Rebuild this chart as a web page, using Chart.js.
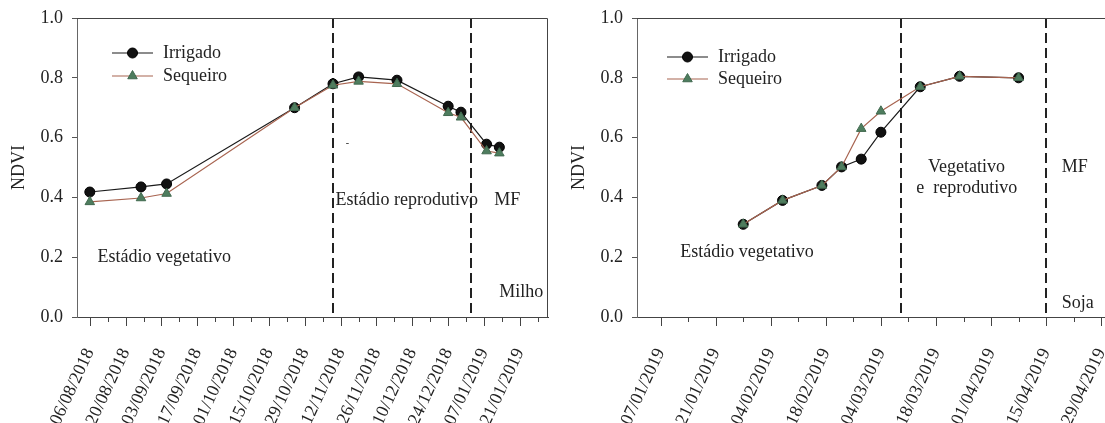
<!DOCTYPE html>
<html>
<head>
<meta charset="utf-8">
<script src="https://cdn.jsdelivr.net/npm/chart.js@4.4.1/dist/chart.umd.min.js"></script>
<style>
  html, body { margin: 0; padding: 0; background: #fff; overflow: hidden; }
  #wrap { position: relative; width: 1105px; height: 423px; overflow: hidden; }
  #milhoChart { position: absolute; left: 0; top: 0; }
  #sojaChart { position: absolute; left: 560px; top: 0; }
</style>
</head>
<body>
<div id="wrap">
  <canvas id="milhoChart" width="556" height="423"></canvas>
  <canvas id="sojaChart" width="561" height="423"></canvas>
</div>
<script>
// Milho
const milhoDates = ['06/08/2018', '26/08/2018', '05/09/2018', '25/10/2018', '09/11/2018', '19/11/2018',
                    '04/12/2018', '24/12/2018', '29/12/2018', '08/01/2019', '13/01/2019'];
const milhoIrrigado = [0.418, 0.435, 0.445, 0.700, 0.780, 0.803, 0.792, 0.705, 0.685, 0.578, 0.568];
const milhoSequeiro = [0.385, 0.398, 0.413, 0.700, 0.775, 0.788, 0.780, 0.683, 0.668, 0.555, 0.548];
const milhoTickLabels = ['06/08/2018', '20/08/2018', '03/09/2018', '17/09/2018', '01/10/2018', '15/10/2018',
                         '29/10/2018', '12/11/2018', '26/11/2018', '10/12/2018', '24/12/2018', '07/01/2019', '21/01/2019'];
const milhoRange = ['01/08/2018', '01/02/2019'];
const milhoFases = ['09/11/2018', '02/01/2019'];
const milhoTextos = ['Estádio vegetativo', 'Estádio reprodutivo', 'MF', 'Milho', '-'];
const milhoTextosX = ['09/08/2018', '10/11/2018', '11/01/2019', '13/01/2019', '14/11/2018'];
const milhoTextosY = [0.20, 0.392, 0.392, 0.082, 0.58];

// Soja
const sojaDates = ['28/01/2019', '07/02/2019', '17/02/2019', '22/02/2019', '27/02/2019', '04/03/2019',
                   '14/03/2019', '24/03/2019', '08/04/2019'];
const sojaIrrigado = [0.31, 0.39, 0.44, 0.502, 0.528, 0.618, 0.77, 0.805, 0.80];
const sojaSequeiro = [0.31, 0.39, 0.44, 0.502, 0.630, 0.688, 0.77, 0.805, 0.80];
const sojaTickLabels = ['07/01/2019', '21/01/2019', '04/02/2019', '18/02/2019', '04/03/2019',
                        '18/03/2019', '01/04/2019', '15/04/2019', '29/04/2019'];
const sojaRange = ['01/01/2019', '02/05/2019'];
const sojaFases = ['09/03/2019', '15/04/2019'];
const sojaTextos = ['Estádio vegetativo', 'Vegetativo', 'e  reprodutivo', 'MF', 'Soja'];
const sojaTextosX = ['12/01/2019', '16/03/2019', '13/03/2019', '19/04/2019', '19/04/2019'];
const sojaTextosY = [0.215, 0.50, 0.43, 0.50, 0.045];

const ndviTicks = [0, 0.2, 0.4, 0.6, 0.8, 1.0];

Chart.defaults.font.family = "'Liberation Serif', 'Times New Roman', serif";
Chart.defaults.font.size = 18;
Chart.defaults.color = '#222';

// dd/mm/yyyy -> dias desde 01/01/2018 (segunda-feira)
function dia(s) {
    const p = s.split('/');
    return Math.round((Date.UTC(+p[2], +p[1] - 1, +p[0]) - Date.UTC(2018, 0, 1)) / 86400000);
}

const fasesPlugin = {
    id: 'fases',
    beforeDatasetsDraw(chart, args, opts) {
        const ctx = chart.ctx, a = chart.chartArea, xs = chart.scales.x;
        ctx.save();
        ctx.strokeStyle = '#222';
        ctx.lineWidth = 2;
        ctx.setLineDash([10, 5]);
        opts.fases.forEach(d => {
            const px = Math.round(xs.getPixelForValue(dia(d)));
            ctx.beginPath();
            ctx.moveTo(px, a.top);
            ctx.lineTo(px, a.bottom);
            ctx.stroke();
        });
        ctx.restore();
    },
    afterDraw(chart, args, opts) {
        const ctx = chart.ctx, a = chart.chartArea, xs = chart.scales.x, ys = chart.scales.y;
        ctx.save();
        // moldura
        ctx.strokeStyle = '#444';
        ctx.lineWidth = 1;
        ctx.beginPath();
        ctx.moveTo(a.left, a.top + 0.5);
        ctx.lineTo(a.right - 0.5, a.top + 0.5);
        ctx.lineTo(a.right - 0.5, a.bottom);
        ctx.stroke();

        // marcas do eixo x (maiores com rótulo, menores sem)
        xs.ticks.forEach(t => {
            const px = Math.round(xs.getPixelForValue(t.value)) + 0.5;
            const len = opts.labels.has(t.value) ? 9 : 5;
            ctx.beginPath();
            ctx.moveTo(px, a.bottom);
            ctx.lineTo(px, a.bottom + len);
            ctx.stroke();
        });

        // textos
        ctx.fillStyle = '#222';
        ctx.textAlign = 'left';
        ctx.textBaseline = 'middle';
        opts.textos.forEach((txt, i) => {
            ctx.font = (txt === '-' ? '10px' : '18px') + " 'Liberation Serif', serif";
            ctx.fillText(txt, xs.getPixelForValue(dia(opts.textosX[i])), ys.getPixelForValue(opts.textosY[i]));
        });

        // legenda
        ctx.font = "18px 'Liberation Serif', serif";
        chart.data.datasets.slice().reverse().forEach((ds, i) => {
            const x0 = a.left + opts.legend.x;
            const y = a.top + opts.legend.y[i];
            ctx.strokeStyle = ds.borderColor;
            ctx.lineWidth = ds.borderWidth;
            ctx.beginPath();
            ctx.moveTo(x0, y);
            ctx.lineTo(x0 + 41, y);
            ctx.stroke();
            ctx.fillStyle = ds.pointBackgroundColor;
            ctx.strokeStyle = ds.pointBorderColor;
            ctx.lineWidth = ds.pointBorderWidth;
            Chart.helpers.drawPoint(ctx, {
                pointStyle: ds.pointStyle, radius: ds.pointRadius, rotation: 0, borderWidth: ds.pointBorderWidth
            }, x0 + 20.5, y);
            ctx.fillStyle = '#222';
            ctx.fillText(ds.label, x0 + 51, y);
        });
        ctx.restore();
    }
};

function makeChart(id, dates, irrigado, sequeiro, tickLabels, range, fases, textos, textosX, textosY, legend) {
    const min = dia(range[0]), max = dia(range[1]);
    const labels = new Map(tickLabels.map(s => [dia(s), s]));
    const tickValues = [];
    for (let v = dia(tickLabels[0]) - 7; v <= max; v += 7) {
        if (v >= min) tickValues.push(v);
    }

    return new Chart(document.getElementById(id), {
        type: 'line',
        data: {
            datasets: [{
                label: 'Sequeiro',
                data: dates.map((d, i) => ({ x: dia(d), y: sequeiro[i] })),
                borderColor: '#a86450',
                borderWidth: 1.2,
                pointStyle: 'triangle',
                pointRadius: 5.5,
                pointBackgroundColor: '#4e7d5e',
                pointBorderColor: '#41694f',
                pointBorderWidth: 1,
                tension: 0
            }, {
                label: 'Irrigado',
                data: dates.map((d, i) => ({ x: dia(d), y: irrigado[i] })),
                borderColor: '#1a1a1a',
                borderWidth: 1.2,
                pointStyle: 'circle',
                pointRadius: 5,
                pointBackgroundColor: '#111',
                pointBorderColor: '#000',
                pointBorderWidth: 1,
                tension: 0
            }]
        },
        options: {
            responsive: false,
            devicePixelRatio: 1,
            animation: false,
            events: [],
            layout: { padding: { left: 0, right: 8, top: 18, bottom: 0 } },
            plugins: {
                legend: { display: false },
                tooltip: { enabled: false },
                fases: { fases, textos, textosX, textosY, labels, legend }
            },
            scales: {
                x: {
                    type: 'linear',
                    min: min,
                    max: max,
                    afterBuildTicks: s => { s.ticks = tickValues.map(v => ({ value: v })); },
                    afterFit: s => { s.height = 106; s.paddingLeft = 0; s.paddingRight = 0; },
                    grid: { drawOnChartArea: false, drawTicks: false },
                    border: { color: '#444', width: 1 },
                    ticks: {
                        autoSkip: false,
                        minRotation: 65,
                        maxRotation: 65,
                        padding: 28,
                        labelOffset: 0,
                        color: '#222',
                        callback: v => labels.get(v) || ''
                    }
                },
                y: {
                    min: 0,
                    max: 1,
                    afterBuildTicks: s => { s.ticks = ndviTicks.map(v => ({ value: v })); },
                    afterFit: s => { s.width = 77; s.paddingTop = 0; s.paddingBottom = 0; },
                    title: { display: true, text: 'NDVI', color: '#222', padding: { top: 8, bottom: 0 } },
                    grid: { drawOnChartArea: false, tickLength: 5, tickColor: '#555' },
                    border: { color: '#666', width: 1 },
                    ticks: { padding: 9, color: '#222', callback: v => v.toFixed(1) }
                }
            }
        },
        plugins: [fasesPlugin]
    });
}

makeChart('milhoChart', milhoDates, milhoIrrigado, milhoSequeiro, milhoTickLabels, milhoRange, milhoFases,
          milhoTextos, milhoTextosX, milhoTextosY, { x: 35, y: [35, 58] });
makeChart('sojaChart', sojaDates, sojaIrrigado, sojaSequeiro, sojaTickLabels, sojaRange, sojaFases,
          sojaTextos, sojaTextosX, sojaTextosY, { x: 30, y: [39, 61] });
</script>
</body>
</html>
